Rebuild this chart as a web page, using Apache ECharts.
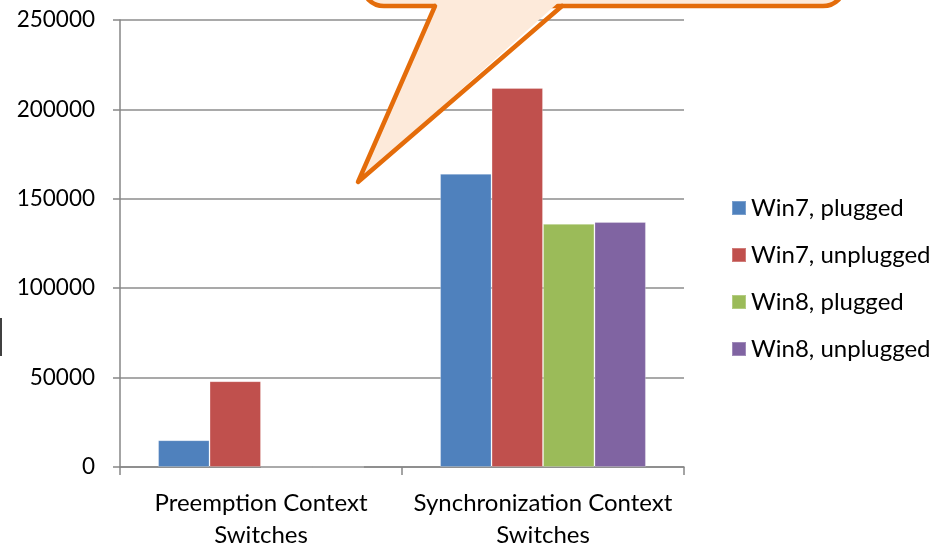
<!DOCTYPE html>
<html>
<head>
<meta charset="utf-8">
<script src="https://cdn.jsdelivr.net/npm/echarts@6/dist/echarts.min.js"></script>
<style>
html,body{margin:0;padding:0;background:#fff;}
#chart{width:948px;height:547px;}
</style>
</head>
<body>
<div id="chart"></div>
<script>
var categories = ['Preemption Context\nSwitches', 'Synchronization Context\nSwitches'];
var seriesNames = ['Win7, plugged', 'Win7, unplugged', 'Win8, plugged', 'Win8, unplugged'];
var win7Plugged = [15000, 164000];
var win7Unplugged = [48000, 212000];
var win8Plugged = [0, 136000];
var win8Unplugged = [0, 137000];
var colors = ['#4F81BD', '#C0504D', '#9BBB59', '#8064A2'];

var FONT = 'Lato';
var chart = echarts.init(document.getElementById('chart'));
var values = [win7Plugged, win7Unplugged, win8Plugged, win8Unplugged];

chart.setOption({
  animation: false,
  color: colors,
  textStyle: { fontFamily: FONT },
  grid: { left: 120, right: 264, top: 20, bottom: 80, containLabel: false, outerBoundsMode: 'none' },
  legend: {
    orient: 'vertical',
    left: 726,
    top: 190,
    itemWidth: 14,
    itemHeight: 14,
    itemGap: 21,
    icon: 'rect',
    textStyle: { fontFamily: FONT, fontSize: 24, color: '#000', lineHeight: 26 },
    data: seriesNames
  },
  xAxis: {
    type: 'category',
    data: categories,
    axisLine: { lineStyle: { color: '#868686', width: 1.5 } },
    axisTick: { show: true, length: 8, lineStyle: { color: '#868686', width: 1.5 } },
    axisLabel: { fontFamily: FONT, fontSize: 24, color: '#000', margin: 20, lineHeight: 32, interval: 0 }
  },
  yAxis: {
    type: 'value',
    min: 0,
    max: 250000,
    interval: 50000,
    axisLine: { show: true, lineStyle: { color: '#868686', width: 1.5 } },
    axisTick: { show: true, length: 7, lineStyle: { color: '#868686', width: 1.5 } },
    axisLabel: { fontFamily: FONT, fontSize: 22.5, color: '#000', margin: 25, formatter: function (v) { return String(v); } },
    splitLine: { lineStyle: { color: '#8c8c8c', width: 1.5 } }
  },
  series: seriesNames.map(function (name, i) {
    return {
      name: name,
      type: 'bar',
      data: values[i],
      barGap: '0%',
      barCategoryGap: '27%',
      itemStyle: { color: colors[i], borderColor: 'rgba(255,255,255,0.25)', borderWidth: 1 }
    };
  }),
  graphic: [
    {
      type: 'rect',
      z: 100,
      shape: { x: 362, y: -80, width: 483, height: 86, r: 22 },
      style: { fill: '#FDEADA', stroke: '#E46C0A', lineWidth: 4.5 }
    },
    {
      type: 'polygon',
      z: 101,
      shape: { points: [[437, 1], [358, 182], [560, 1]] },
      style: { fill: '#FDEADA' }
    },
    {
      type: 'polyline',
      z: 102,
      shape: { points: [[435, 6], [358, 182], [562, 6]] },
      style: { fill: null, stroke: '#E46C0A', lineWidth: 4.5, lineJoin: 'round', lineCap: 'round' }
    },
    {
      type: 'line',
      z: 100,
      shape: { x1: 1, y1: 318, x2: 1, y2: 356 },
      style: { stroke: '#404040', lineWidth: 2 }
    }
  ]
});
</script>
</body>
</html>
